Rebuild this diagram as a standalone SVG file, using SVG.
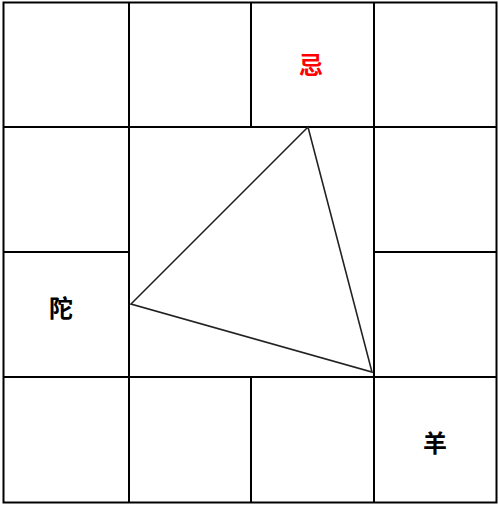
<svg xmlns="http://www.w3.org/2000/svg" width="499" height="506" viewBox="0 0 499 506">
<style>
.g{stroke:#000;stroke-width:2;fill:none}
.t{font-family:"Noto Sans CJK SC","Noto Sans",sans-serif;font-size:24px;font-weight:bold;text-anchor:middle;dominant-baseline:central}
</style>
<rect x="0" y="0" width="499" height="506" fill="#fff"/>
<g id="grid" class="g">
<rect x="3.5" y="2.5" width="493" height="500"/>
<line x1="129" y1="2.5" x2="129" y2="502.5"/>
<line x1="251" y1="2.5" x2="251" y2="127"/>
<line x1="251" y1="377" x2="251" y2="502.5"/>
<line x1="374" y1="2.5" x2="374" y2="502.5"/>
<line x1="3.5" y1="127" x2="496.5" y2="127"/>
<line x1="3.5" y1="252" x2="129" y2="252"/>
<line x1="374" y1="252" x2="496.5" y2="252"/>
<line x1="3.5" y1="377" x2="496.5" y2="377"/>
</g>
<g id="connectors">
<polygon points="308,127 131,304 372,372" fill="none" stroke="#222" stroke-width="1.6"/>
</g>
<g id="node-ji"><text class="t" x="311" y="63" fill="#f00">忌</text></g>
<g id="node-tuo"><text class="t" x="61" y="306" fill="#000">陀</text></g>
<g id="node-yang"><text class="t" x="435" y="441" fill="#000">羊</text></g>
</svg>
